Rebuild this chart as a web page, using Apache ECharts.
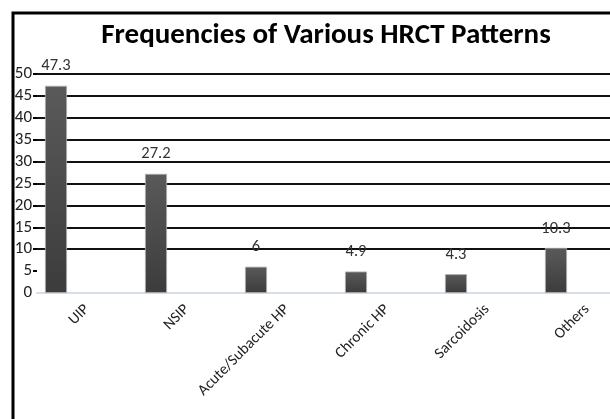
<!DOCTYPE html>
<html>
<head>
<meta charset="utf-8">
<script src="https://cdn.jsdelivr.net/npm/echarts@6/dist/echarts.min.js"></script>
<style>
  html, body { margin: 0; padding: 0; background: #fff; }
  #chart { width: 610px; height: 419px; }
</style>
</head>
<body>
<div id="chart"></div>
<script>
const categories = ["UIP", "NSIP", "Acute/Subacute HP", "Chronic HP", "Sarcoidosis", "Others"];
const frequencies = [47.3, 27.2, 6, 4.9, 4.3, 10.3];
const yTicks = [0, 5, 10, 15, 20, 25, 30, 35, 40, 45, 50];

const fontFam = "Carlito, 'Liberation Sans Narrow', 'Open Sans', sans-serif";

const chart = echarts.init(document.getElementById("chart"));

// grid 0: value axis, gridlines and category labels
// grid 1: the bars themselves (same height, shifted left like the original)
const option = {
  animation: false,
  title: {
    text: "Frequencies of Various HRCT Patterns",
    left: 321,
    top: 16,
    textAlign: "center",
    textStyle: { fontFamily: fontFam, fontWeight: "bold", fontSize: 29, color: "#000" },
  },
  graphic: [
    {
      type: "rect",
      shape: { x: 13, y: 13, width: 700, height: 500 },
      style: { fill: "none", stroke: "#000", lineWidth: 3 },
      z: 100,
    },
  ],
  grid: [
    { left: 37, width: 600, top: 74, height: 219, outerBoundsMode: "none" },
    { left: 6, width: 600, top: 74, height: 219, outerBoundsMode: "none" },
  ],
  xAxis: [
    {
      gridIndex: 0,
      type: "category",
      data: categories,
      axisLine: { show: true, lineStyle: { color: "#d5deea", width: 2 } },
      axisTick: { show: false },
      axisLabel: {
        rotate: 45,
        interval: 0,
        margin: 14,
        fontFamily: fontFam,
        fontSize: 15.5,
        color: "#222",
      },
    },
    {
      gridIndex: 1,
      type: "category",
      data: categories,
      show: false,
    },
  ],
  yAxis: [
    {
      gridIndex: 0,
      type: "value",
      min: 0,
      max: 50,
      interval: 5,
      axisLine: { show: false },
      axisTick: {
        show: true,
        length: 4,
        lineStyle: { color: "#000", width: 2 },
        customValues: yTicks.slice(1),
      },
      axisLabel: { margin: 5, fontFamily: fontFam, fontSize: 17, color: "#222" },
      splitLine: { show: true, showMinLine: false, lineStyle: { color: "#111", width: 2 } },
    },
    {
      gridIndex: 1,
      type: "value",
      min: 0,
      max: 50,
      show: false,
    },
  ],
  series: [
    {
      type: "bar",
      xAxisIndex: 1,
      yAxisIndex: 1,
      data: frequencies,
      barWidth: 22,
      itemStyle: {
        color: new echarts.graphic.LinearGradient(0, 0, 0, 1, [
          { offset: 0, color: "#5a5a5a" },
          { offset: 1, color: "#3c3c3c" },
        ]),
        borderColor: "#b0b0b0",
        borderWidth: 0.8,
      },
      label: {
        show: true,
        position: "top",
        distance: 11,
        fontFamily: fontFam,
        fontSize: 16.5,
        color: "#333",
      },
      z: 3,
    },
  ],
};

chart.setOption(option);
</script>
</body>
</html>
